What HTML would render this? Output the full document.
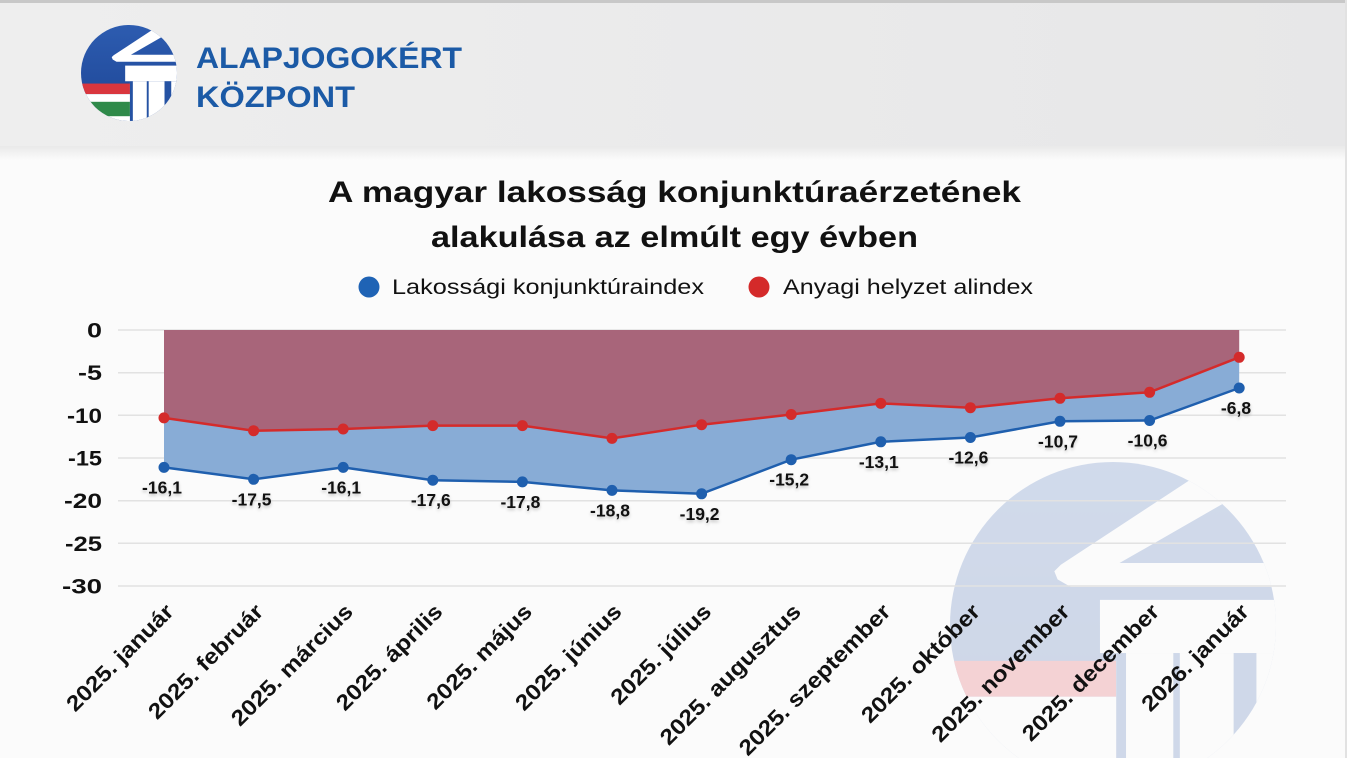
<!DOCTYPE html>
<html><head><meta charset="utf-8"><style>
html,body{margin:0;padding:0;background:#fbfbfb;}
svg{display:block;font-family:"Liberation Sans",sans-serif;}
</style></head><body>
<svg width="1347" height="758" viewBox="0 0 1347 758" xmlns="http://www.w3.org/2000/svg">
<defs>
  <clipPath id="c"><circle cx="50" cy="50" r="50"/></clipPath>
  <linearGradient id="hdr" x1="0" y1="0" x2="1" y2="0">
    <stop offset="0" stop-color="#eeeeee"/><stop offset="1" stop-color="#e7e7e8"/>
  </linearGradient>
  <linearGradient id="hfade" x1="0" y1="0" x2="0" y2="1">
    <stop offset="0" stop-color="#e9e9e9"/><stop offset="1" stop-color="#fbfbfb"/>
  </linearGradient>
  <linearGradient id="lb" x1="0" y1="0" x2="0" y2="1">
    <stop offset="0" stop-color="#2d5cb0"/><stop offset="1" stop-color="#1d4595"/>
  </linearGradient>
  <g id="logobase">
    <rect width="100" height="100" fill="url(#lb)"/>
    <rect x="0" y="61" width="51" height="11" fill="#d9363e"/>
    <rect x="0" y="72" width="51" height="28" fill="#ffffff"/>
  </g>
  <g id="logotop">
    <polygon points="82,0 106,0 52,31 106,31 106,38.3 37,38.3 33,36 32,33.5 34,31.5" fill="#ffffff"/>
    <rect x="46" y="42.3" width="60" height="16.3" fill="#ffffff"/>
    <rect x="51" y="58.6" width="55" height="42" fill="#ffffff"/>
    <rect x="51" y="58.6" width="3" height="42" fill="#2552a3"/>
    <rect x="68.5" y="58.6" width="2" height="42" fill="#2552a3"/>
    <rect x="87" y="58.6" width="7" height="42" fill="#2552a3"/>
  </g>
</defs>

<!-- background -->
<rect x="0" y="0" width="1347" height="758" fill="#fbfbfb"/>
<rect x="0" y="0" width="1347" height="146" fill="url(#hdr)"/>
<rect x="0" y="146" width="1347" height="14" fill="url(#hfade)"/>
<rect x="0" y="0" width="1347" height="3" fill="#c8c8c8"/>
<rect x="1345" y="0" width="2" height="758" fill="#e2e2e2"/>

<!-- header logo -->
<g transform="translate(81,25) scale(0.96)">
  <g clip-path="url(#c)">
    <use href="#logobase"/>
    <rect x="0" y="80" width="51" height="15" fill="#2f8a4a"/>
    <use href="#logotop"/>
  </g>
</g>
<text x="196" y="68" font-size="30" font-weight="bold" fill="#1b5aa6" textLength="266" lengthAdjust="spacingAndGlyphs">ALAPJOGOKÉRT</text>
<text x="196" y="107" font-size="30" font-weight="bold" fill="#1b5aa6" textLength="159" lengthAdjust="spacingAndGlyphs">KÖZPONT</text>

<!-- watermark -->
<g transform="translate(950,462) scale(3.26)" opacity="0.2">
  <g clip-path="url(#c)">
    <use href="#logobase"/>
    <use href="#logotop"/>
  </g>
</g>

<!-- title -->
<text x="328" y="202" font-size="30" font-weight="bold" fill="#111" textLength="693" lengthAdjust="spacingAndGlyphs">A magyar lakosság konjunktúraérzetének</text>
<text x="431" y="247" font-size="30" font-weight="bold" fill="#111" textLength="487" lengthAdjust="spacingAndGlyphs">alakulása az elmúlt egy évben</text>

<!-- legend -->
<circle cx="369" cy="287" r="10.5" fill="#1f63b5"/>
<text x="392" y="294" font-size="21" fill="#111" textLength="312" lengthAdjust="spacingAndGlyphs">Lakossági konjunktúraindex</text>
<circle cx="759" cy="287" r="10.5" fill="#d42a2a"/>
<text x="783" y="294" font-size="21" fill="#111" textLength="250" lengthAdjust="spacingAndGlyphs">Anyagi helyzet alindex</text>

<!-- gridlines -->
<g stroke="#e2e2e2" stroke-width="1.5">
  <line x1="118" y1="330" x2="1286" y2="330"/>
  <line x1="118" y1="372.7" x2="1286" y2="372.7"/>
  <line x1="118" y1="415.3" x2="1286" y2="415.3"/>
  <line x1="118" y1="458" x2="1286" y2="458"/>
  <line x1="118" y1="500.7" x2="1286" y2="500.7"/>
  <line x1="118" y1="543.3" x2="1286" y2="543.3"/>
  <line x1="118" y1="586" x2="1286" y2="586"/>
</g>

<!-- y labels -->
<g font-size="21" font-weight="bold" fill="#111" text-anchor="end">
  <text x="102" y="337.5" textLength="15" lengthAdjust="spacingAndGlyphs">0</text>
  <text x="102" y="380.2" textLength="24" lengthAdjust="spacingAndGlyphs">-5</text>
  <text x="102" y="422.8" textLength="35" lengthAdjust="spacingAndGlyphs">-10</text>
  <text x="102" y="465.5" textLength="34" lengthAdjust="spacingAndGlyphs">-15</text>
  <text x="102" y="508.2" textLength="38" lengthAdjust="spacingAndGlyphs">-20</text>
  <text x="102" y="550.8" textLength="37" lengthAdjust="spacingAndGlyphs">-25</text>
  <text x="102" y="593.5" textLength="40" lengthAdjust="spacingAndGlyphs">-30</text>
</g>

<!-- red area (0 to red line) -->
<polygon fill="#a8657a" points="164,330 1239.2,330 1239.2,357.3 1149.6,392.3 1060,398.3 970.4,407.7 880.8,403.4 791.2,414.5 701.6,424.7 612,438.4 522.4,425.6 432.8,425.6 343.2,429 253.6,430.7 164,417.9"/>
<!-- blue area (red line to blue line) -->
<polygon fill="#88acd6" points="164,417.9 253.6,430.7 343.2,429 432.8,425.6 522.4,425.6 612,438.4 701.6,424.7 791.2,414.5 880.8,403.4 970.4,407.7 1060,398.3 1149.6,392.3 1239.2,357.3 1239.2,388 1149.6,420.5 1060,421.3 970.4,437.5 880.8,441.8 791.2,459.7 701.6,493.8 612,490.4 522.4,481.9 432.8,480.2 343.2,467.4 253.6,479.3 164,467.4"/>

<!-- red line -->
<polyline fill="none" stroke="#d42b2b" stroke-width="2.5" points="164,417.9 253.6,430.7 343.2,429 432.8,425.6 522.4,425.6 612,438.4 701.6,424.7 791.2,414.5 880.8,403.4 970.4,407.7 1060,398.3 1149.6,392.3 1239.2,357.3"/>
<g fill="#d42b2b">
  <circle cx="164" cy="417.9" r="5.5"/><circle cx="253.6" cy="430.7" r="5.5"/><circle cx="343.2" cy="429" r="5.5"/>
  <circle cx="432.8" cy="425.6" r="5.5"/><circle cx="522.4" cy="425.6" r="5.5"/><circle cx="612" cy="438.4" r="5.5"/>
  <circle cx="701.6" cy="424.7" r="5.5"/><circle cx="791.2" cy="414.5" r="5.5"/><circle cx="880.8" cy="403.4" r="5.5"/>
  <circle cx="970.4" cy="407.7" r="5.5"/><circle cx="1060" cy="398.3" r="5.5"/><circle cx="1149.6" cy="392.3" r="5.5"/>
  <circle cx="1239.2" cy="357.3" r="5.5"/>
</g>

<!-- blue line -->
<polyline fill="none" stroke="#1f5fae" stroke-width="2.5" points="164,467.4 253.6,479.3 343.2,467.4 432.8,480.2 522.4,481.9 612,490.4 701.6,493.8 791.2,459.7 880.8,441.8 970.4,437.5 1060,421.3 1149.6,420.5 1239.2,388"/>
<g fill="#1f5fae">
  <circle cx="164" cy="467.4" r="5.5"/><circle cx="253.6" cy="479.3" r="5.5"/><circle cx="343.2" cy="467.4" r="5.5"/>
  <circle cx="432.8" cy="480.2" r="5.5"/><circle cx="522.4" cy="481.9" r="5.5"/><circle cx="612" cy="490.4" r="5.5"/>
  <circle cx="701.6" cy="493.8" r="5.5"/><circle cx="791.2" cy="459.7" r="5.5"/><circle cx="880.8" cy="441.8" r="5.5"/>
  <circle cx="970.4" cy="437.5" r="5.5"/><circle cx="1060" cy="421.3" r="5.5"/><circle cx="1149.6" cy="420.5" r="5.5"/>
  <circle cx="1239.2" cy="388" r="5.5"/>
</g>

<!-- data labels -->
<g font-size="17.5" font-weight="bold" fill="#111" text-anchor="middle" style="text-shadow:0 2px 3px rgba(0,0,0,0.22)">
  <text x="162" y="493.4">-16,1</text>
  <text x="251.6" y="505.3">-17,5</text>
  <text x="341.2" y="493.4">-16,1</text>
  <text x="430.8" y="506.2">-17,6</text>
  <text x="520.4" y="507.9">-17,8</text>
  <text x="610" y="516.4">-18,8</text>
  <text x="699.6" y="519.8">-19,2</text>
  <text x="789.2" y="485.7">-15,2</text>
  <text x="878.8" y="467.8">-13,1</text>
  <text x="968.4" y="463.5">-12,6</text>
  <text x="1058" y="447.3">-10,7</text>
  <text x="1147.6" y="446.5">-10,6</text>
  <text x="1236" y="414">-6,8</text>
</g>

<!-- x labels -->
<g font-size="22" font-weight="bold" fill="#111" text-anchor="end">
  <g transform="translate(175,613) rotate(-45) scale(1.11,1)"><text>2025. január</text></g>
  <g transform="translate(264.6,613) rotate(-45) scale(1.11,1)"><text>2025. február</text></g>
  <g transform="translate(354.2,613) rotate(-45) scale(1.11,1)"><text>2025. március</text></g>
  <g transform="translate(443.8,613) rotate(-45) scale(1.11,1)"><text>2025. április</text></g>
  <g transform="translate(533.4,613) rotate(-45) scale(1.11,1)"><text>2025. május</text></g>
  <g transform="translate(623,613) rotate(-45) scale(1.11,1)"><text>2025. június</text></g>
  <g transform="translate(712.6,613) rotate(-45) scale(1.11,1)"><text>2025. július</text></g>
  <g transform="translate(802.2,613) rotate(-45) scale(1.11,1)"><text>2025. augusztus</text></g>
  <g transform="translate(891.8,613) rotate(-45) scale(1.11,1)"><text>2025. szeptember</text></g>
  <g transform="translate(981.4,613) rotate(-45) scale(1.11,1)"><text>2025. október</text></g>
  <g transform="translate(1071,613) rotate(-45) scale(1.11,1)"><text>2025. november</text></g>
  <g transform="translate(1160.6,613) rotate(-45) scale(1.11,1)"><text>2025. december</text></g>
  <g transform="translate(1250.2,613) rotate(-45) scale(1.11,1)"><text>2026. január</text></g>
</g>
</svg>
</body></html>
